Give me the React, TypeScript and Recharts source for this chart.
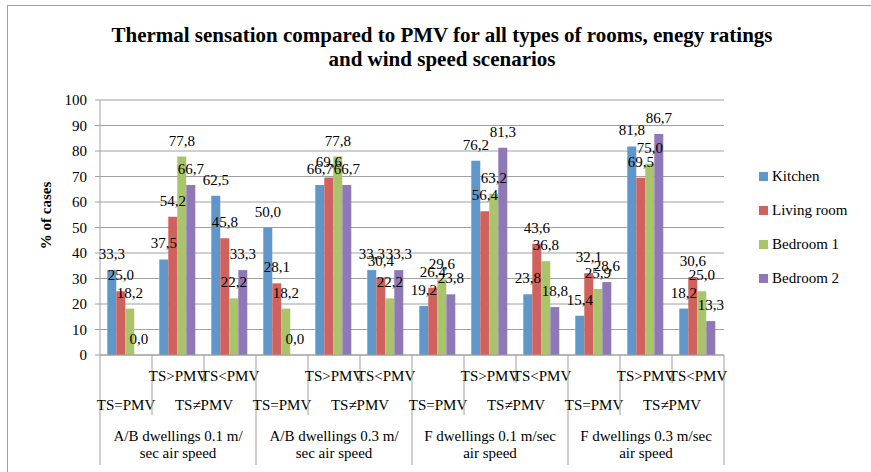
import { Bar, BarChart, CartesianGrid, LabelList, XAxis, YAxis } from 'recharts';

// bottom level of the axis, one per bar group
const CATEGORIES = [
  'TS=PMV', 'TS>PMV', 'TS<PMV',
  'TS=PMV', 'TS>PMV', 'TS<PMV',
  'TS=PMV', 'TS>PMV', 'TS<PMV',
  'TS=PMV', 'TS>PMV', 'TS<PMV',
];
const MIDDLE_LABEL = 'TS≠PMV';
const GROUPS = [
  ['A/B dwellings 0.1 m/', 'sec air speed'],
  ['A/B dwellings 0.3 m/', 'sec air speed'],
  ['F dwellings 0.1 m/sec', 'air speed'],
  ['F dwellings 0.3 m/sec', 'air speed'],
];

const KITCHEN = [33.3, 37.5, 62.5, 50.0, 66.7, 33.3, 19.2, 76.2, 23.8, 15.4, 81.8, 18.2];
const LIVING_ROOM = [25.0, 54.2, 45.8, 28.1, 69.6, 30.4, 26.4, 56.4, 43.6, 32.1, 69.5, 30.6];
const BEDROOM_1 = [18.2, 77.8, 22.2, 18.2, 77.8, 22.2, 29.6, 63.2, 36.8, 25.9, 75.0, 25.0];
const BEDROOM_2 = [0.0, 66.7, 33.3, 0.0, 66.7, 33.3, 23.8, 81.3, 18.8, 28.6, 86.7, 13.3];

const Y_TICKS = [0, 10, 20, 30, 40, 50, 60, 70, 80, 90, 100];

const SERIES = [
  { key: 'kitchen', name: 'Kitchen', color: '#5f97cb', values: KITCHEN },
  { key: 'living', name: 'Living room', color: '#cf625c', values: LIVING_ROOM },
  { key: 'bed1', name: 'Bedroom 1', color: '#a9c46a', values: BEDROOM_1 },
  { key: 'bed2', name: 'Bedroom 2', color: '#8f78b6', values: BEDROOM_2 },
];

const FONT = '"Liberation Serif", serif';
const LINE = '#a0a0a0';
const W = 871;
const H = 472;
const PLOT_LEFT = 100;
const PLOT_RIGHT = 724;
const BAND = (PLOT_RIGHT - PLOT_LEFT) / CATEGORIES.length;

const data = CATEGORIES.map((cat, i) => {
  const row: Record<string, string | number> = { cat, idx: i };
  for (const s of SERIES) row[s.key] = s.values[i];
  return row;
});

const fmt = (v: number) => v.toFixed(1).replace('.', ',');

function CategoryTick(props: any) {
  const { x, y, payload } = props;
  const i = payload.index as number;
  const pos = i % 3;
  const left = x - BAND / 2;
  const depth = pos === 0 ? 110 : pos === 1 ? 60 : 28;
  const txt = { fontFamily: FONT, fontSize: 15, fill: '#000', textAnchor: 'middle' as const };
  const group = GROUPS[Math.floor(i / 3)];
  return (
    <g>
      <line x1={left} x2={left} y1={y} y2={y + depth} stroke={LINE} />
      {i === CATEGORIES.length - 1 && (
        <line x1={x + BAND / 2} x2={x + BAND / 2} y1={y} y2={y + 110} stroke={LINE} />
      )}
      {pos === 0 && <text {...txt} x={x} y={y + 55}>{CATEGORIES[i]}</text>}
      {pos !== 0 && <text {...txt} x={x} y={y + 26}>{CATEGORIES[i]}</text>}
      {pos === 1 && (
        <>
          <text {...txt} x={x + BAND / 2} y={y + 55}>{MIDDLE_LABEL}</text>
          <text {...txt} x={x} y={y + 86}>{group[0]}</text>
          <text {...txt} x={x} y={y + 103}>{group[1]}</text>
        </>
      )}
    </g>
  );
}

function YTitle(props: any) {
  const vb = props.viewBox || { x: 0, y: 100, width: 100, height: 255 };
  const cx = vb.x + 46;
  const cy = vb.y + vb.height / 2 - 12;
  return (
    <text
      x={cx}
      y={cy}
      transform={`rotate(-90 ${cx} ${cy})`}
      textAnchor="middle"
      dominantBaseline="central"
      style={{ fontFamily: FONT, fontSize: 15, fontWeight: 700, fill: '#000' }}
    >
      % of cases
    </text>
  );
}

export default function App() {
  return (
    <div style={{ position: 'fixed', left: 0, top: 0, width: W, height: H, overflow: 'hidden', background: '#fff', fontFamily: FONT }}>
      <div style={{ position: 'absolute', left: 7, top: 5, width: W, height: H, border: `1.5px solid ${LINE}` }} />
      <div
        style={{
          position: 'absolute', left: 0, top: 23, width: 884, textAlign: 'center',
          fontSize: 21, fontWeight: 700, lineHeight: '24px', color: '#000',
        }}
      >
        Thermal sensation compared to PMV for all types of rooms, enegy ratings
        <br />
        and wind speed scenarios
      </div>
      <BarChart
        width={W}
        height={H}
        data={data}
        margin={{ top: 100, right: W - PLOT_RIGHT, bottom: 0, left: 0 }}
        barCategoryGap="14%"
        barGap={0}
        style={{ position: 'absolute', left: 0, top: 0 }}
      >
        <CartesianGrid vertical={false} stroke={LINE} />
        <XAxis
          dataKey="cat"
          height={117}
          interval={0}
          tickLine={false}
          tickSize={0}
          tickMargin={0}
          axisLine={{ stroke: LINE }}
          tick={<CategoryTick />}
        />
        <YAxis
          width={PLOT_LEFT}
          domain={[0, 100]}
          ticks={Y_TICKS}
          interval={0}
          tickSize={5}
          tickMargin={8}
          axisLine={{ stroke: LINE }}
          tickLine={{ stroke: LINE }}
          tick={{ fontFamily: FONT, fontSize: 15, fill: '#000' }}
          label={<YTitle />}
        />
        {SERIES.map((s) => (
          <Bar
            key={s.key}
            dataKey={s.key}
            name={s.name}
            fill={s.color}
            minPointSize={0.1}
            isAnimationActive={false}
          >
            <LabelList
              dataKey={s.key}
              position="top"
              offset={11}
              formatter={(v: any) => fmt(Number(v))}
              style={{ fontFamily: FONT, fontSize: 15, fill: '#000' }}
            />
          </Bar>
        ))}
      </BarChart>
      {SERIES.map((s, i) => (
        <div
          key={s.key}
          style={{ position: 'absolute', left: 759, top: 166 + i * 34, height: 20, display: 'flex', alignItems: 'center', fontSize: 15, color: '#000' }}
        >
          <span style={{ display: 'inline-block', width: 9, height: 9, background: s.color, marginRight: 4 }} />
          {s.name}
        </div>
      ))}
    </div>
  );
}
